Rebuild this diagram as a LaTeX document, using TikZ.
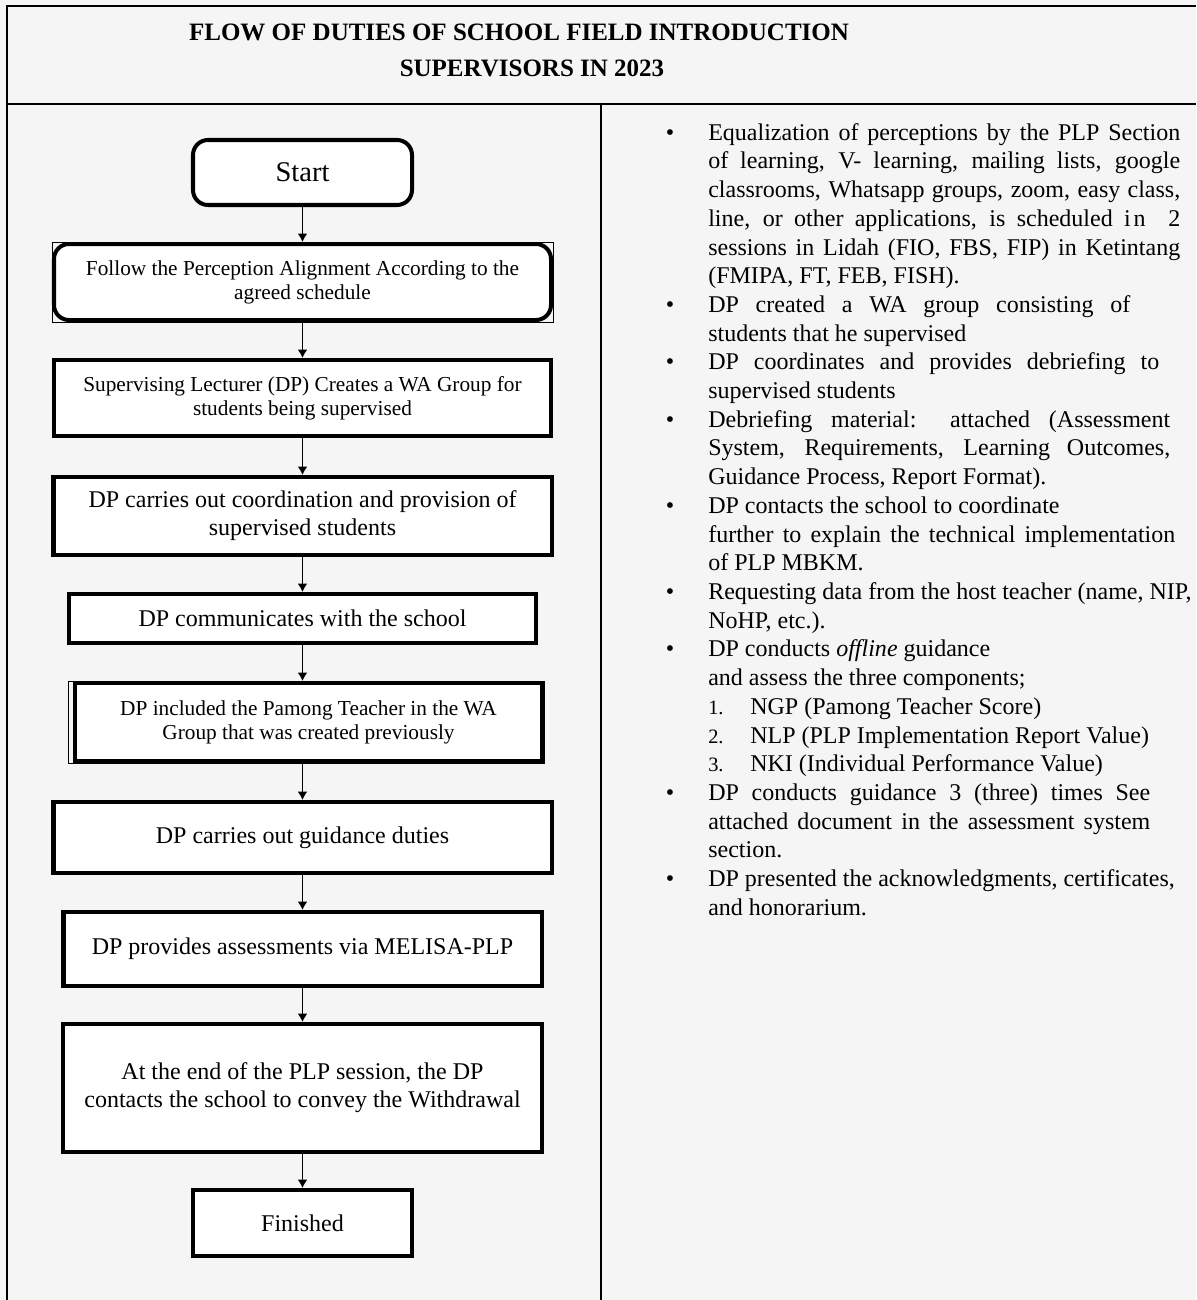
\documentclass[tikz,border=0pt]{standalone}
\usepackage{fontspec}
\setmainfont{Liberation Serif}[BoldFont={Liberation Serif Bold}, ItalicFont={Liberation Serif Italic}]
\usetikzlibrary{positioning,arrows.meta}
\newlength{\px}\setlength{\px}{0.025cm}
\newcommand{\headfont}{\fontsize{17.78}{25.6}\selectfont\bfseries}
\newcommand{\startfont}{\fontsize{20.3}{24}\selectfont}
\newcommand{\flowfont}{\fontsize{17.07}{19.92}\selectfont}
\newcommand{\flowsmallfont}{\fontsize{15.15}{17.07}\selectfont}
\newcommand{\notefont}{\fontsize{17.07}{20.41}\selectfont}
\newcommand{\jl}[2]{\makebox[#1\px][s]{#2}}
\newcommand{\blt}{\llap{\textbullet\hspace{34\px}}}
\newcommand{\enumlbl}[1]{\makebox[42\px][l]{\fontsize{14.5}{14.5}\selectfont #1}}
\tikzstyle{arrow} = [line width=1.1pt, -{Latex[length=6pt,width=7pt]}]
\tikzstyle{frame} = [line width=1.8pt, line join=miter]

\begin{document}
\begin{tikzpicture}[x=0.025cm, y=-0.025cm, node distance=35\px,
    stepbox/.style={draw, fill=white, line width=2.85pt, align=center, inner sep=0pt, font=\flowfont},
    roundbox/.style={stepbox, rounded corners=15\px}]

    % Page and table frame
    \fill[black!4] (0,0) rectangle (1196,1300);
    \useasboundingbox (0,0) rectangle (1196,1300);
    \draw[frame] (7,1300) -- (7,6) -- (1196,6);
    \draw[frame] (7,104) -- (1196,104);
    \draw[frame] (601,104) -- (601,1300);

    \node[font=\headfont, align=center] (title) at (519,50) {FLOW OF DUTIES OF SCHOOL FIELD INTRODUCTION\\\hspace*{26\px}SUPERVISORS IN 2023};

    % Define nodes of the flow
    \node (start) [roundbox, font=\startfont, minimum width=219\px, minimum height=65\px] at (302.5,172.5) {Start};
    \node (follow) [roundbox, font=\flowsmallfont, minimum width=497\px, minimum height=76\px, below=35\px of start] {Follow the Perception Alignment According to the\\agreed schedule};
    \node (superv) [stepbox, font=\flowsmallfont, minimum width=497\px, minimum height=76\px, below=36\px of follow] {Supervising Lecturer (DP) Creates a WA Group for\\students being supervised};
    \node (coord) [stepbox, minimum width=498\px, minimum height=78\px, below=37\px of superv] {DP carries out coordination and provision of\\supervised students};
    \node (comm) [stepbox, minimum width=467\px, minimum height=49\px, below=35\px of coord] {DP communicates with the school};
    \node (incl) [stepbox, font=\flowsmallfont, minimum width=467\px, minimum height=78\px, below=36\px of comm, xshift=6\px] {DP included the Pamong Teacher in the WA\\Group that was created previously};
    \node (guid) [stepbox, minimum width=498\px, minimum height=71\px, below=37\px of incl, xshift=-6\px] {DP carries out guidance duties};
    \node (prov) [stepbox, minimum width=478\px, minimum height=74\px, below=35\px of guid] {DP provides assessments via MELISA-PLP};
    \node (atend) [stepbox, minimum width=479\px, minimum height=128\px, below=34\px of prov] {At the end of the PLP session, the DP\\contacts the school to convey the Withdrawal};
    \node (fin) [stepbox, minimum width=219\px, minimum height=66\px, below=34\px of atend] {Finished};

    % thin outlines left behind two boxes
    \draw[line width=0.4pt] (follow.south west) rectangle (follow.north east);
    \draw[line width=0.4pt] ([xshift=-5\px]incl.south west) rectangle (incl.north east);

    % Draw downward arrows
    \foreach \X/\Y in {start/follow, follow/superv, superv/coord, coord/comm, comm/incl, incl/guid, guid/prov, prov/atend, atend/fin} {
        \draw[arrow] (\X.south -| start) -- (\Y.north -| start);
    }

    % Notes in the right column
    \node (notes) [anchor=north west, inner sep=0pt, align=left, font=\notefont] at (708,120) {%
\rule{0pt}{20\px}\blt\jl{472}{Equalization of perceptions by the PLP Section}\\
\jl{472}{of learning, V- learning, mailing lists, google}\\
\jl{472}{classrooms, Whatsapp groups, zoom, easy class,}\\
\jl{472}{line, or other applications, is scheduled i\kern3\px n\ \ 2}\\
\jl{472}{sessions in Lidah (FIO, FBS, FIP) in Ketintang}\\
(FMIPA, FT, FEB, FISH).\\
\blt\jl{422}{DP created a WA group consisting of}\\
students that he supervised\\
\blt\jl{451}{DP coordinates and provides debriefing to}\\
supervised students\\
\blt\jl{462}{Debriefing material: attached (Assessment}\\
\jl{462}{System, Requirements, Learning Outcomes,}\\
Guidance Process, Report Format).\\
\blt DP contacts the school to coordinate\\
\jl{467}{further to explain the technical implementation}\\
of PLP MBKM.\\
\blt Requesting data from the host teacher (name, NIP,\\
NoHP, etc.).\\
\blt DP conducts \textit{offline} guidance\\
and assess the three components;\\
\enumlbl{1.}NGP (Pamong Teacher Score)\\
\enumlbl{2.}NLP (PLP Implementation Report Value)\\
\enumlbl{3.}NKI (Individual Performance Value)\\
\blt\jl{442}{DP conducts guidance 3 (three) times See}\\
\jl{442}{attached document in the assessment system}\\
section.\\
\blt DP presented the acknowledgments, certificates,\\
and honorarium.};

\end{tikzpicture}
\end{document}
